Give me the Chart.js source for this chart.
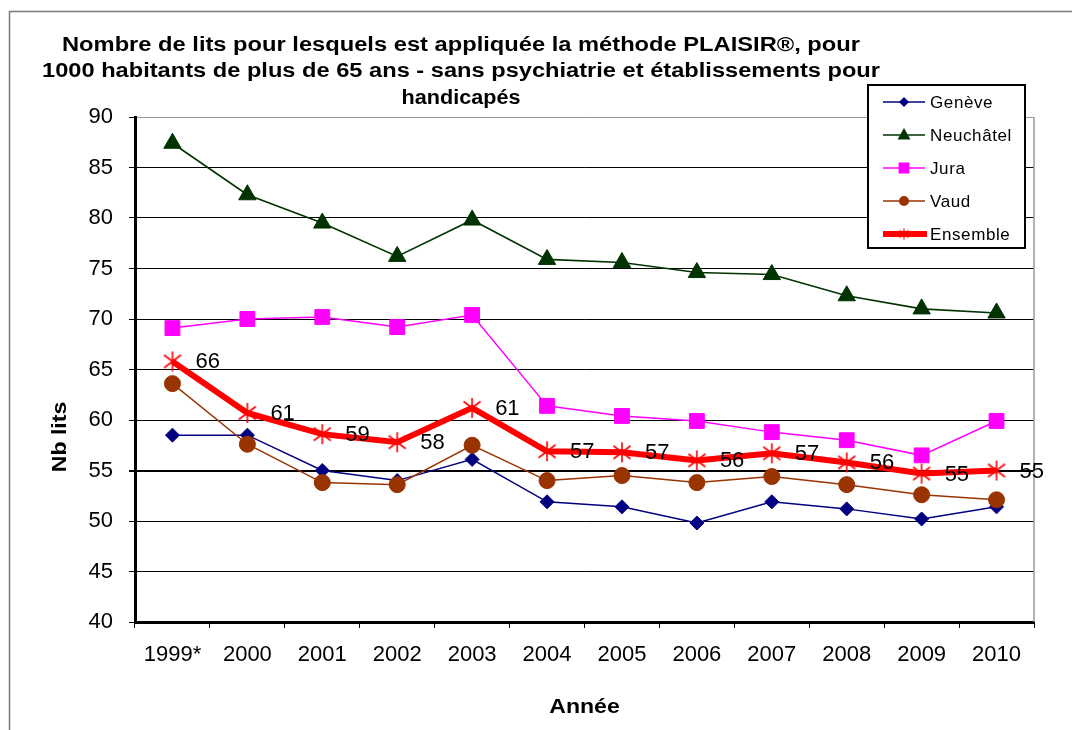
<!DOCTYPE html>
<html>
<head>
<meta charset="utf-8">
<script src="https://cdn.jsdelivr.net/npm/chart.js@4.4.1/dist/chart.umd.min.js"></script>
<style>
  html, body { margin: 0; padding: 0; background: #fff; }
  canvas { display: block; }
</style>
</head>
<body>
<canvas id="chart" width="1072" height="730"></canvas>
<script>
// Data
const years = ['1999*', '2000', '2001', '2002', '2003', '2004', '2005', '2006', '2007', '2008', '2009', '2010'];
const geneve = [58.5, 58.5, 55.0, 54.0, 56.1, 51.9, 51.4, 49.8, 51.9, 51.2, 50.2, 51.4];
const neuchatel = [87.4, 82.3, 79.5, 76.2, 79.8, 75.9, 75.6, 74.6, 74.4, 72.3, 71.0, 70.6];
const jura = [69.1, 70.0, 70.2, 69.2, 70.4, 61.4, 60.4, 59.9, 58.8, 58.0, 56.5, 59.9];
const vaud = [63.6, 57.6, 53.8, 53.6, 57.5, 54.0, 54.5, 53.8, 54.4, 53.6, 52.6, 52.1];
const ensemble = [65.8, 60.7, 58.6, 57.8, 61.2, 56.9, 56.8, 56.0, 56.7, 55.8, 54.7, 55.0];

const yMin = 40, yMax = 90, yStep = 5;

const titleLines = [
    'Nombre de lits pour lesquels est appliquée la méthode PLAISIR®, pour',
    '1000 habitants de plus de 65 ans - sans psychiatrie et établissements pour',
    'handicapés'
];

const FONT = "'Liberation Sans', Arial, sans-serif";

// Excel-like asterisk marker (vertical bar + X)
const makeStar = (size, color, lw) => {
    const c = document.createElement('canvas');
    c.width = size; c.height = size;
    const g = c.getContext('2d');
    g.strokeStyle = color;
    g.lineWidth = lw;
    const m = size / 2, r = size / 2 - 1, d = r * 0.85, e = r * 0.65;
    g.beginPath();
    g.moveTo(m, m - r); g.lineTo(m, m + r);
    g.moveTo(m - d, m - e); g.lineTo(m + d, m + e);
    g.moveTo(m - d, m + e); g.lineTo(m + d, m - e);
    g.stroke();
    return c;
};
const bigStar = makeStar(22, '#ff0000', 1.6);
const smallStar = makeStar(13, '#ff0000', 1.3);

const series = [
    { label: 'Genève', data: geneve, color: '#000080', style: 'rectRot', r: 7, lw: 1.5, order: 4 },
    { label: 'Neuchâtel', data: neuchatel, color: '#003300', style: 'triangle', r: 10, lw: 1.6, order: 3 },
    { label: 'Jura', data: jura, color: '#ff00ff', style: 'rect', r: 10.5, lw: 1.5, order: 2 },
    { label: 'Vaud', data: vaud, color: '#993300', style: 'circle', r: 8, lw: 1.5, order: 1 },
    { label: 'Ensemble', data: ensemble, color: '#ff0000', style: bigStar, r: 11, lw: 6, order: 0 },
];

// background, outer frame, titles, legend, labels
const decorPlugin = {
    id: 'decor',
    beforeDraw(chart) {
        const ctx = chart.ctx;
        ctx.save();
        ctx.fillStyle = '#fff';
        ctx.fillRect(0, 0, chart.width, chart.height);
        ctx.strokeStyle = '#7a7a7a';
        ctx.lineWidth = 1.5;
        ctx.beginPath();
        ctx.moveTo(9.5, chart.height);
        ctx.lineTo(9.5, 11.5);
        ctx.lineTo(chart.width, 11.5);
        ctx.stroke();
        ctx.restore();
    },
    beforeDatasetsDraw(chart) {
        const { ctx, chartArea: a } = chart;
        ctx.save();
        ctx.strokeStyle = '#9a9a9a';
        ctx.lineWidth = 1.5;
        ctx.beginPath();
        ctx.moveTo(a.right, a.top);
        ctx.lineTo(a.right, a.bottom);
        ctx.stroke();
        ctx.restore();
    },
    afterDatasetsDraw(chart) {
        const ctx = chart.ctx;
        const meta = chart.getDatasetMeta(4);
        ctx.save();
        ctx.fillStyle = '#000';
        ctx.font = '22px ' + FONT;
        ctx.textAlign = 'left';
        ctx.textBaseline = 'middle';
        meta.data.forEach((p, i) => {
            ctx.fillText(String(Math.round(ensemble[i])), p.x + 23, p.y + 1);
        });
        ctx.restore();
    },
    afterDraw(chart) {
        const { ctx, chartArea: a } = chart;
        ctx.save();
        ctx.fillStyle = '#000';

        // title
        ctx.font = 'bold 20px ' + FONT;
        ctx.textAlign = 'center';
        ctx.textBaseline = 'alphabetic';
        const fits = [798, 838, 0];
        titleLines.forEach((t, i) => {
            const y = 50.5 + i * 26.5;
            const w = ctx.measureText(t).width;
            const sx = fits[i] ? fits[i] / w : 1.08;
            ctx.save();
            ctx.translate(461, y);
            ctx.scale(sx, 1);
            ctx.fillText(t, 0, 0);
            ctx.restore();
        });

        // axis titles
        ctx.font = 'bold 21px ' + FONT;
        ctx.save();
        ctx.translate(60, 437);
        ctx.rotate(-Math.PI / 2);
        ctx.scale(1.1, 1);
        ctx.textBaseline = 'middle';
        ctx.fillText('Nb lits', 0, 0);
        ctx.restore();
        ctx.save();
        ctx.translate((a.left + a.right) / 2, 713);
        ctx.scale(1.1, 1);
        ctx.fillText('Année', 0, 0);
        ctx.restore();

        // legend box
        const bx = 868, by = 85, bw = 157, bh = 163;
        ctx.fillStyle = '#fff';
        ctx.fillRect(bx, by, bw, bh);
        ctx.strokeStyle = '#000';
        ctx.lineWidth = 2;
        ctx.strokeRect(bx, by, bw, bh);
        ctx.font = '17px ' + FONT;
        ctx.textAlign = 'left';
        ctx.textBaseline = 'middle';
        if ('letterSpacing' in ctx) ctx.letterSpacing = '0.6px';
        series.forEach((s, i) => {
            const y = 102 + i * 33;
            ctx.strokeStyle = s.color;
            ctx.lineWidth = s.lw;
            ctx.beginPath();
            ctx.moveTo(883, y);
            ctx.lineTo(s.lw > 3 ? 927 : 925, y);
            ctx.stroke();
            ctx.fillStyle = s.color;
            const mx = 904;
            ctx.beginPath();
            if (s.style === 'rectRot') {
                ctx.moveTo(mx, y - 5); ctx.lineTo(mx + 5, y); ctx.lineTo(mx, y + 5); ctx.lineTo(mx - 5, y);
                ctx.closePath(); ctx.fill();
            } else if (s.style === 'triangle') {
                ctx.moveTo(mx, y - 7); ctx.lineTo(mx + 6.5, y + 4.5); ctx.lineTo(mx - 6.5, y + 4.5);
                ctx.closePath(); ctx.fill();
            } else if (s.style === 'rect') {
                ctx.fillRect(mx - 5.5, y - 5.5, 11, 11);
            } else if (s.style === 'circle') {
                ctx.arc(mx, y, 5, 0, Math.PI * 2); ctx.fill();
            } else {
                ctx.drawImage(smallStar, mx - 6.5, y - 6.5);
            }
            ctx.fillStyle = '#000';
            ctx.fillText(s.label, 930, y + 1);
        });
        ctx.restore();
    }
};

const renderChart = () => {
    const ctx = document.getElementById('chart').getContext('2d');
    new Chart(ctx, {
        type: 'line',
        data: {
            labels: years,
            datasets: series.map(s => ({
                label: s.label,
                data: s.data,
                order: s.order,
                borderColor: s.color,
                backgroundColor: s.color,
                borderWidth: s.lw,
                pointStyle: s.style,
                pointRadius: s.r,
                pointBackgroundColor: s.color,
                pointBorderColor: s.color,
                pointBorderWidth: 1,
                tension: 0,
                fill: false,
            })),
        },
        options: {
            responsive: false,
            devicePixelRatio: 1,
            animation: false,
            events: [],
            layout: { padding: { left: 0, top: 117, right: 38, bottom: 0 } },
            plugins: {
                legend: { display: false },
                title: { display: false },
                tooltip: { enabled: false },
            },
            scales: {
                x: {
                    offset: true,
                    afterFit: (scale) => { scale.height = 108; },
                    grid: {
                        offset: true,
                        drawOnChartArea: false,
                        tickLength: 6,
                        color: '#000',
                        lineWidth: 1,
                    },
                    border: { display: true, color: '#000', width: 3 },
                    ticks: {
                        color: '#000',
                        font: { family: FONT, size: 22 },
                        padding: 14,
                        maxRotation: 0,
                        autoSkip: false,
                    },
                },
                y: {
                    min: yMin,
                    max: yMax,
                    afterFit: (scale) => { scale.width = 135; },
                    grid: {
                        color: (c) => (c.tick && c.tick.value === yMax ? '#999' : '#000'),
                        lineWidth: (c) => (c.tick && c.tick.value === 55 ? 2 : 1),
                        tickColor: '#000',
                        tickLength: 6,
                    },
                    border: { display: true, color: '#000', width: 3 },
                    ticks: {
                        stepSize: yStep,
                        color: '#000',
                        font: { family: FONT, size: 22 },
                        padding: 16,
                    },
                },
            },
        },
        plugins: [decorPlugin],
    });
};

renderChart();
</script>
</body>
</html>
